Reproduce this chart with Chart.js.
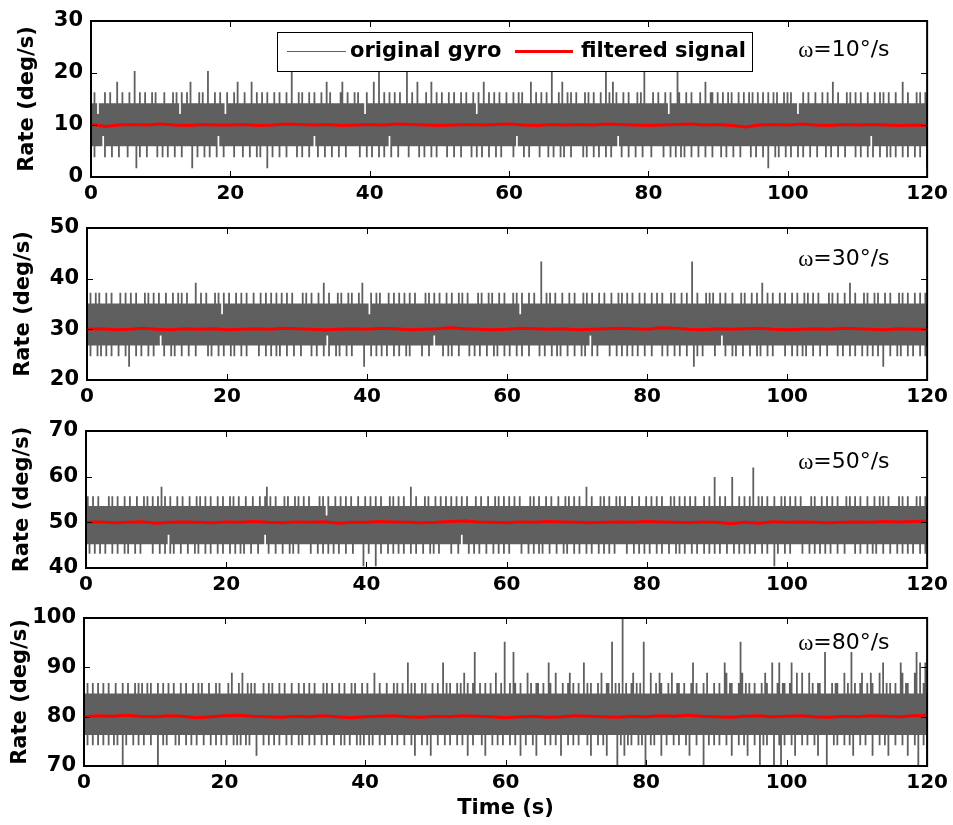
<!DOCTYPE html>
<html>
<head>
<meta charset="utf-8">
<title>Gyro rate: raw vs filtered</title>
<script src="https://cdn.jsdelivr.net/npm/chart.js@4.4.1/dist/chart.umd.min.js"></script>
<style>
  html, body { margin: 0; padding: 0; background: #fff; }
  #fig { position: relative; width: 953px; height: 825px; overflow: hidden; background: #fff; }
  #fig canvas { position: absolute; left: 0; }
</style>
</head>
<body>
<div id="fig"></div>
<script>
// ---- data ----------------------------------------------------------------
const TIME_TICKS = [0, 20, 40, 60, 80, 100, 120];
const RATE_TITLES = ['=10°/s', '=30°/s', '=50°/s', '=80°/s'];

const P1_TICKS = [0, 10, 20, 30];
const P2_TICKS = [20, 30, 40, 50];
const P3_TICKS = [40, 50, 60, 70];
const P4_TICKS = [70, 80, 90, 100];

// quantisation levels of the gyro output (deg/s), indexed by hex digit
const P1_LEVELS = [1.7, 3.8, 5.9, 7.9, 10.0, 12.1, 14.2, 16.3, 18.3, 20.4];
const P2_LEVELS = [22.6, 24.7, 26.8, 28.8, 30.9, 33.0, 35.1, 37.2, 39.2, 41.3, 43.4];
const P3_LEVELS = [40.4, 43.1, 45.2, 47.3, 49.4, 51.5, 53.6, 55.7, 57.8, 59.9, 62.0];
const P4_LEVELS = [70.0, 72.1, 74.2, 76.3, 78.4, 80.5, 82.6, 84.7, 86.8, 88.9, 91.0, 93.1, 95.2, 97.3, 100.0];

// raw gyro, reduced to the lowest / highest sample in each 0.25 s bin (0..120 s)
const P1_LOW = `
2212222312 2212221222 2122220212 2212222212 2122122212 2212222202
2122212212 2213221222 2212222122 2122212122 2022122212 2212222212
2122212232 1222122212 2212221222 2222122212 2122212212 2312221222
2212222212 2122212212 2222122212 2212222212 2122122212 2212212222
2212322212 2122222122 2212212221 2122212222 2212122212 2122212212
2232122212 2212221222 2122222212 2212212212 1222122212 2212221222
2122122212 2212222212 2122212202 2212122212 2122212212 2212221222
2122122212 2212222212 2122212312 2212221212 2122212212 2212212220`;
const P1_HIGH = `
6676566676 6766686676 6676696676 6766676766 6676666767 6576676866
6676766966 6766766576 6676866676 6686676676 6766676676 6676696667
6766676676 6676686766 6667866766 6767666576 6686696676 6766766766
6966766866 6676686676 6766676676 6676676667 6576686676 6766766676
6676676766 6686676676 6766966676 8667676676 6667676676 6676696768
6766676676 6667676966 6676676667 6576669766 6766766667 6686677667
6676676766 6766766767 6676676676 6767666767 6766656676 6766676667
6676686676 6667676676 6766676667 6676766766 6766686676 6667676676`;

const P2_LOW = `
2212221212 2122122212 2212022212 2122212212 2232122212 1222122212
2212222221 2122212212 2212122212 2122222212 2212212212 1222122212
2212222212 2122212312 2212122212 2122222202 2212212212 2122212212
2212122222 2122212232 2221221212 2212222212 2122122212 2212122212
2122212212 2212222212 2122212212 1222122212 2212122312 2122222212
2212212212 2122122212 2212222212 2122212212 2212220212 2122222212
2232122212 1222122212 2212122212 2122222212 2212212212 1222122212
2212222212 2122212212 2212212212 2122022212 2212122212 2122212212`;
const P2_HIGH = `
6676676766 6766766667 6676676676 6667676676 6766676667 6676766766
6686676676 6667676576 6766676676 6766676667 6676676676 6766766766
6667676676 6676686676 6667676667 6766676866 6576676766 6676676676
6766766766 6667676676 6766676676 6676766766 6667676667 6766676676
6667676576 667667666a 6676766766 6766676676 6667676676 6676676667
6667676676 6766676676 6676676676 6667676667 66766a6676 6667676766
6766766676 6667676667 6676686676 6766676676 6676676667 6766766766
6667676676 6676686676 6667676667 6766676676 6667676676 6676676676`;

const P3_LOW = `
2212212212 2122212212 2212122212 2122222212 2212212312 1222122212
2212122212 2122212212 2212212212 1222122212 2232122212 2212221212
2122222212 2212212212 2122122212 2212222202 2122202212 2212212212
2122212212 2212221212 2122222212 2212322212 2122122212 2212212212
2122222212 2212212212 1222122212 2212122212 2122212212 2212212212
2122222212 2212212212 2122212212 2212221212 2122212212 2212212212
2122212221 2212212212 2122212212 2202122212 2122222212 2212212212
2122122212 2212222212 2122212212 1222122212 2212212212 2122212212`;
const P3_HIGH = `
6766766766 6667676676 6676676667 6667676676 6768676676 6676676667
6667676676 6766676676 6676766766 6766676667 6678676676 6667676667
6766766766 6667676576 6676676676 6766676667 6676676676 6667676676
6766686676 6667676667 6676676676 6766766766 6676676667 6667676676
6766766766 6667676676 6676676667 6667676676 6766686676 6667676676
6676766766 6766676667 6676676676 6667676676 6766766766 6676676696
6766766696 6676676676 a667676676 6676667676 6766766766 6667676667
6676676676 6667676676 6766676667 6676766766 6667676676 6667676676`;

const P4_LOW = `
3323323323 3233233232 3303233323 3233233323 3303323233 3323233323
3233233323 3323323323 3233323232 3323233313 3323323323 3233323323
3323233323 3233323323 3323332323 3233323232 3323233323 3233323323
3323332313 3323323133 3233323323 3323323313 3233332313 3323323323
3323323313 3233323133 3323323323 3133323323 3233332313 3323323133
3330323132 3233323230 3323233313 3233323323 3323133323 3303323323
3233323313 3323323133 3233032323 3303320323 3323133323 3233323133
3303332323 3323323133 3233233313 3323323133 3233323313 3323033230`;
const P4_HIGH = `
7787787787 7877877787 7787787778 7878778787 7787787787 7877787787
7787787877 7877787877 7787977787 9778787877 7787787877 7877877787
7787787787 7877778787 7877787787 7787877787 7877797787 7787778787
7877a78787 7787877787 7877a78787 7787879787 78b7787787 787797787c
7787b87787 7797877887 7877a87797 7787789787 7877a78787 7787977887
c78787e787 78978787c7 7797787987 7787977887 787778a787 7787977787
7877a97887 778c978787 7877787987 7a778a7887 78a7797797 7797877887
7b77787887 779787b787 7897787987 7797a78787 7877a97887 779b7a78a7`;

// filtered output, one value every 2 s (0..120 s)
const P1_FILTERED = [
  10.2, 9.7, 10.0, 10.1, 10.0, 10.2, 10.0, 9.9, 10.1, 10.0,
  10.0, 10.1, 9.9, 10.0, 10.2, 10.1, 10.0, 10.1, 9.9, 10.0,
  10.1, 10.0, 10.2, 10.1, 10.0, 9.9, 10.0, 10.1, 10.0, 10.1,
  10.2, 10.0, 9.9, 10.1, 10.0, 10.1, 10.0, 10.2, 10.1, 10.0,
  9.9, 10.0, 10.1, 10.2, 10.0, 10.1, 9.9, 9.6, 10.0, 10.1,
  10.0, 10.2, 10.0, 9.9, 10.1, 10.0, 10.1, 10.0, 9.9, 10.0, 9.9
];
const P2_FILTERED = [
  30.0, 30.1, 29.9, 30.0, 30.2, 30.0, 29.9, 30.1, 30.0, 30.1,
  29.9, 30.0, 30.1, 30.0, 30.2, 30.1, 30.0, 29.9, 30.0, 30.1,
  30.0, 30.2, 30.1, 29.9, 30.0, 30.1, 30.3, 30.1, 30.0, 29.9,
  30.0, 30.2, 30.1, 30.0, 30.1, 29.9, 30.0, 30.1, 30.2, 30.1,
  30.0, 30.3, 30.2, 30.0, 29.9, 30.1, 30.0, 30.1, 30.2, 30.0,
  29.9, 30.0, 30.1, 30.0, 30.2, 30.1, 30.0, 29.9, 30.1, 30.0, 30.0
];
const P3_FILTERED = [
  50.0, 50.1, 49.9, 50.0, 50.1, 49.8, 50.0, 50.1, 50.0, 49.9,
  50.1, 50.0, 50.2, 50.0, 49.9, 50.1, 50.0, 50.1, 49.8, 50.0,
  50.0, 50.2, 50.1, 50.0, 49.9, 50.0, 50.2, 50.3, 50.1, 50.0,
  49.9, 50.1, 50.0, 50.2, 50.1, 50.0, 49.9, 50.0, 50.1, 50.0,
  50.2, 50.1, 50.0, 49.9, 50.1, 50.0, 49.7, 50.0, 49.8, 50.1,
  50.0, 50.1, 50.0, 49.9, 50.0, 50.1, 50.0, 50.2, 50.1, 50.2, 50.3
];
const P4_FILTERED = [
  80.0, 80.2, 80.1, 80.3, 80.1, 80.0, 80.2, 80.1, 79.8, 80.0,
  80.2, 80.3, 80.1, 80.0, 79.9, 80.1, 80.0, 80.2, 80.0, 79.8,
  80.0, 80.1, 80.2, 80.0, 79.9, 80.1, 80.0, 80.2, 80.1, 80.0,
  79.8, 80.0, 80.1, 79.9, 80.0, 80.2, 80.1, 80.0, 79.9, 80.1,
  80.0, 80.2, 80.1, 80.3, 80.1, 80.0, 79.9, 80.1, 80.2, 80.0,
  80.1, 80.2, 80.0, 79.9, 80.1, 80.0, 80.2, 80.1, 80.0, 80.2, 80.3
];

// ---- layout ----------------------------------------------------------------
const FIG_W = 953, FIG_H = 825, PLOT_RIGHT = 931;
const PANEL_BOXES = [
  { left: 91, top: 21, bottom: 177, labelDy: 29 },
  { left: 87, top: 228, bottom: 380, labelDy: 31 },
  { left: 86, top: 431, bottom: 568, labelDy: 31 },
  { left: 84, top: 618, bottom: 766, labelDy: 25 }
];
const SANS = '"DejaVu Sans", "Liberation Sans", Arial, sans-serif';
const GRAY = '#5f5f5f';
const RED = '#ff0000';

// each bin becomes a vertical stroke from its low to its high sample;
// a null point after every bin breaks the line so bins are not joined
function envelopeTrace(lowRaw, highRaw, levels) {
  const lo = lowRaw.replace(/\s+/g, '');
  const hi = highRaw.replace(/\s+/g, '');
  const dt = 120 / (lo.length - 1);
  const pts = [];
  for (let i = 0; i < lo.length; i++) {
    const t = i * dt;
    pts.push(
      { x: t, y: levels[parseInt(lo[i], 16)] },
      { x: t, y: levels[parseInt(hi[i], 16)] },
      { x: t, y: null }
    );
  }
  return pts;
}

function filteredPoints(values) {
  return values.map((v, i) => ({ x: i * 2, y: v }));
}

// box, inward ticks on all four sides, the omega label and the legend
const panelDecor = {
  id: 'panelDecor',
  afterDraw(chart, args, opts) {
    const { ctx, chartArea: a, scales: { x, y } } = chart;
    ctx.save();

    ctx.strokeStyle = '#000';
    ctx.lineWidth = 1;
    ctx.beginPath();
    x.ticks.forEach(t => {
      const px = Math.round(x.getPixelForValue(t.value)) + 0.5;
      ctx.moveTo(px, a.bottom); ctx.lineTo(px, a.bottom - 6);
      ctx.moveTo(px, a.top); ctx.lineTo(px, a.top + 6);
    });
    y.ticks.forEach(t => {
      const py = Math.round(y.getPixelForValue(t.value)) + 0.5;
      ctx.moveTo(a.left, py); ctx.lineTo(a.left + 6, py);
      ctx.moveTo(a.right, py); ctx.lineTo(a.right - 6, py);
    });
    ctx.stroke();

    ctx.lineWidth = 2;
    ctx.strokeRect(a.left, a.top, a.right - a.left, a.bottom - a.top);

    // rate annotation
    ctx.fillStyle = '#000';
    ctx.textBaseline = 'middle';
    ctx.textAlign = 'left';
    const lx = a.right - 129, ly = a.top + opts.labelDy;
    ctx.font = '23px "Liberation Serif", "DejaVu Serif", serif';
    ctx.fillText('ω', lx, ly + 1);
    const wOmega = ctx.measureText('ω').width;
    ctx.font = '22px ' + SANS;
    ctx.fillText(opts.rateText, lx + wOmega, ly);

    if (opts.showLegend) {
      const bx = a.left + 186, by = a.top + 11, bw = 475, bh = 39;
      const my = by + bh / 2;
      ctx.fillStyle = '#fff';
      ctx.fillRect(bx, by, bw, bh);
      ctx.lineWidth = 1;
      ctx.strokeStyle = '#000';
      ctx.strokeRect(bx + 0.5, by + 0.5, bw, bh);

      ctx.strokeStyle = GRAY;
      ctx.lineWidth = 1;
      ctx.beginPath(); ctx.moveTo(bx + 10, my); ctx.lineTo(bx + 69, my); ctx.stroke();
      ctx.strokeStyle = RED;
      ctx.lineWidth = 3;
      ctx.beginPath(); ctx.moveTo(bx + 238, my); ctx.lineTo(bx + 296, my); ctx.stroke();

      ctx.fillStyle = '#000';
      ctx.font = 'bold 21px ' + SANS;
      ctx.fillText('original gyro', bx + 73, my);
      ctx.fillText('filtered signal', bx + 304, my);
    }
    ctx.restore();
  }
};

const PANELS = [
  { low: P1_LOW, high: P1_HIGH, levels: P1_LEVELS, filtered: P1_FILTERED, ticks: P1_TICKS },
  { low: P2_LOW, high: P2_HIGH, levels: P2_LEVELS, filtered: P2_FILTERED, ticks: P2_TICKS },
  { low: P3_LOW, high: P3_HIGH, levels: P3_LEVELS, filtered: P3_FILTERED, ticks: P3_TICKS },
  { low: P4_LOW, high: P4_HIGH, levels: P4_LEVELS, filtered: P4_FILTERED, ticks: P4_TICKS }
];

function buildPanel(idx) {
  const p = PANELS[idx];
  const box = PANEL_BOXES[idx];
  const isLast = idx === PANELS.length - 1;
  const margin = Math.min(box.top, 30);
  const below = isLast ? FIG_H - box.bottom : 45;

  const canvas = document.createElement('canvas');
  canvas.width = FIG_W;
  canvas.height = margin + (box.bottom - box.top) + below;
  canvas.style.top = (box.top - margin) + 'px';
  document.getElementById('fig').appendChild(canvas);

  const yTicks = p.ticks;

  return new Chart(canvas, {
    type: 'line',
    data: {
      datasets: [
        {
          label: 'filtered signal',
          data: filteredPoints(p.filtered),
          borderColor: RED,
          borderWidth: 3,
          pointRadius: 0,
          tension: 0,
          order: 0
        },
        {
          label: 'original gyro',
          data: envelopeTrace(p.low, p.high, p.levels),
          borderColor: GRAY,
          borderWidth: 1.8,
          borderCapStyle: 'butt',
          pointRadius: 0,
          tension: 0,
          spanGaps: false,
          order: 1
        }
      ]
    },
    options: {
      responsive: false,
      animation: false,
      devicePixelRatio: 1,
      events: [],
      layout: { padding: { top: margin, right: FIG_W - PLOT_RIGHT, left: 0, bottom: 0 } },
      plugins: {
        legend: { display: false },
        tooltip: { enabled: false },
        panelDecor: {
          rateText: RATE_TITLES[idx],
          labelDy: box.labelDy,
          showLegend: idx === 0
        }
      },
      scales: {
        x: {
          type: 'linear',
          min: TIME_TICKS[0],
          max: TIME_TICKS[TIME_TICKS.length - 1],
          grid: { display: false, drawTicks: false },
          border: { display: false },
          afterBuildTicks: s => { s.ticks = TIME_TICKS.map(v => ({ value: v })); },
          afterFit: s => { s.height = below; },
          ticks: {
            color: '#000',
            font: { family: SANS, size: 20, weight: 'bold' },
            padding: 5,
            maxRotation: 0,
            autoSkip: false
          },
          title: {
            display: isLast,
            text: 'Time (s)',
            color: '#000',
            font: { family: SANS, size: 21, weight: 'bold' },
            padding: { top: 0, bottom: 4 }
          }
        },
        y: {
          type: 'linear',
          min: yTicks[0],
          max: yTicks[yTicks.length - 1],
          grid: { display: false, drawTicks: false },
          border: { display: false },
          afterBuildTicks: s => { s.ticks = yTicks.map(v => ({ value: v })); },
          afterFit: s => { s.width = box.left; },
          ticks: {
            color: '#000',
            font: { family: SANS, size: 21, weight: 'bold' },
            padding: 8,
            autoSkip: false
          },
          title: {
            display: true,
            text: 'Rate (deg/s)',
            color: '#000',
            font: { family: SANS, size: 21, weight: 'bold' },
            padding: { top: box.left - 63 - 12.6, bottom: 0 }
          }
        }
      }
    },
    plugins: [panelDecor]
  });
}

PANELS.forEach((p, i) => buildPanel(i));
</script>
</body>
</html>
